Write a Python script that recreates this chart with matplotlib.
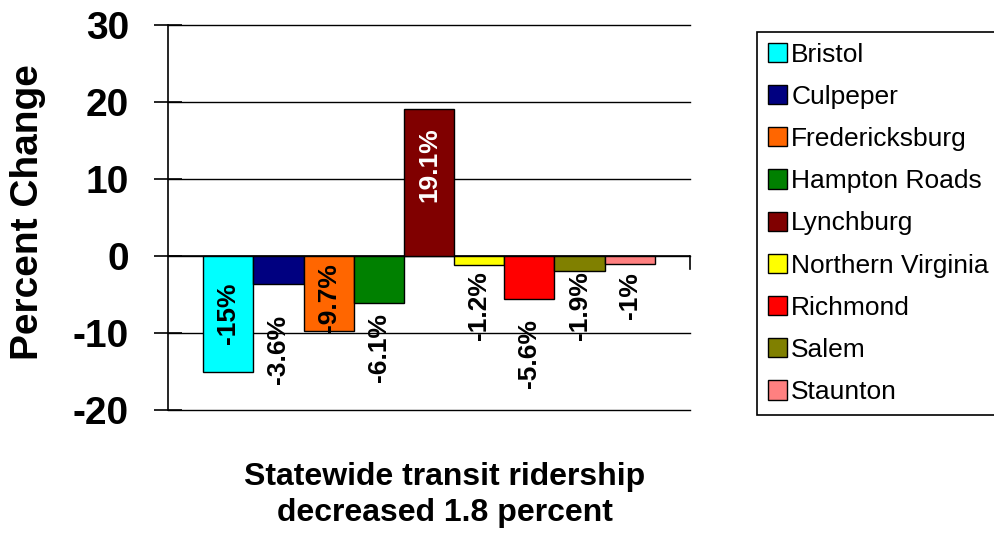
import matplotlib.pyplot as plt
import numpy as np
from matplotlib.patches import Patch

plt.rcParams['font.family'] = ['Liberation Sans', 'DejaVu Sans']
plt.rcParams['axes.unicode_minus'] = False

# 数据
regions = ['Bristol', 'Culpeper', 'Fredericksburg', 'Hampton Roads', 'Lynchburg',
           'Northern Virginia', 'Richmond', 'Salem', 'Staunton']
change = [-15, -3.6, -9.7, -6.1, 19.1, -1.2, -5.6, -1.9, -1]
labels = ['-15%', '-3.6%', '-9.7%', '-6.1%', '19.1%', '-1.2%', '-5.6%', '-1.9%', '-1%']
colors = ['#00FFFF', '#000080', '#FF6600', '#008000', '#800000',
          '#FFFF00', '#FF0000', '#808000', '#FF8080']
# 标签中心位置 (数据单位)
label_y = [-7.4, -12.1, -5.45, -11.9, 11.9, -6.5, -12.6, -6.5, -5.2]
label_color = ['black', 'black', 'black', 'black', 'white', 'black', 'black', 'black', 'black']

W, H = 995, 533
fig = plt.figure(figsize=(W / 100, H / 100), dpi=100)
ax = fig.add_axes([168 / W, (H - 410) / H, (690 - 168) / W, (410 - 25) / H])

x = np.arange(len(regions))
ax.bar(x, change, width=1.0, color=colors, edgecolor='black', linewidth=1.0, zorder=3)

for i in range(len(x)):
    ax.text(x[i], label_y[i], labels[i], rotation=90, ha='center', va='center',
            fontsize=19, fontweight='bold', color=label_color[i], zorder=4)

ax.set_ylim(-20, 30)
ax.set_xlim(-1.2, 9.2)
ax.set_yticks([-20, -10, 0, 10, 20, 30])
ax.yaxis.grid(True, color='black', linewidth=1.0, zorder=0)
for gl in ax.get_ygridlines():
    gl.set_clip_on(False)
ax.set_xticks([])
for s in ['top', 'right', 'bottom']:
    ax.spines[s].set_visible(False)
ax.spines['left'].set_linewidth(1.2)
ax.tick_params(axis='y', direction='inout', length=20, width=1.2, pad=18, labelsize=28)
for t in ax.get_yticklabels():
    t.set_fontweight('bold')

# x 轴 (y=0) 与右端刻度
ax.axhline(0, color='black', linewidth=1.2, zorder=2)
ax.plot([9.2, 9.2], [0, -1.7], color='black', linewidth=1.2, clip_on=False)

fig.text(28 / W, 1 - 212 / H, 'Percent Change', rotation=90, ha='center', va='center',
         fontsize=28, fontweight='bold')
fig.text(445 / W, 1 - 495 / H, 'Statewide transit ridership\ndecreased 1.8 percent',
         ha='center', va='center', fontsize=23, fontweight='bold', linespacing=1.25)

handles = [Patch(facecolor=c, edgecolor='black', linewidth=1.0) for c in colors]
leg = fig.legend(handles, regions, loc='upper left',
                 bbox_to_anchor=(757 / W, 1 - 32 / H), fontsize=19,
                 frameon=True, fancybox=False, framealpha=1, edgecolor='black',
                 handlelength=0.75, handleheight=0.75, handletextpad=0.15,
                 labelspacing=0.69, borderpad=0.4, borderaxespad=0)
leg.get_frame().set_linewidth(1.2)

fig.savefig('out.png', dpi=100)
